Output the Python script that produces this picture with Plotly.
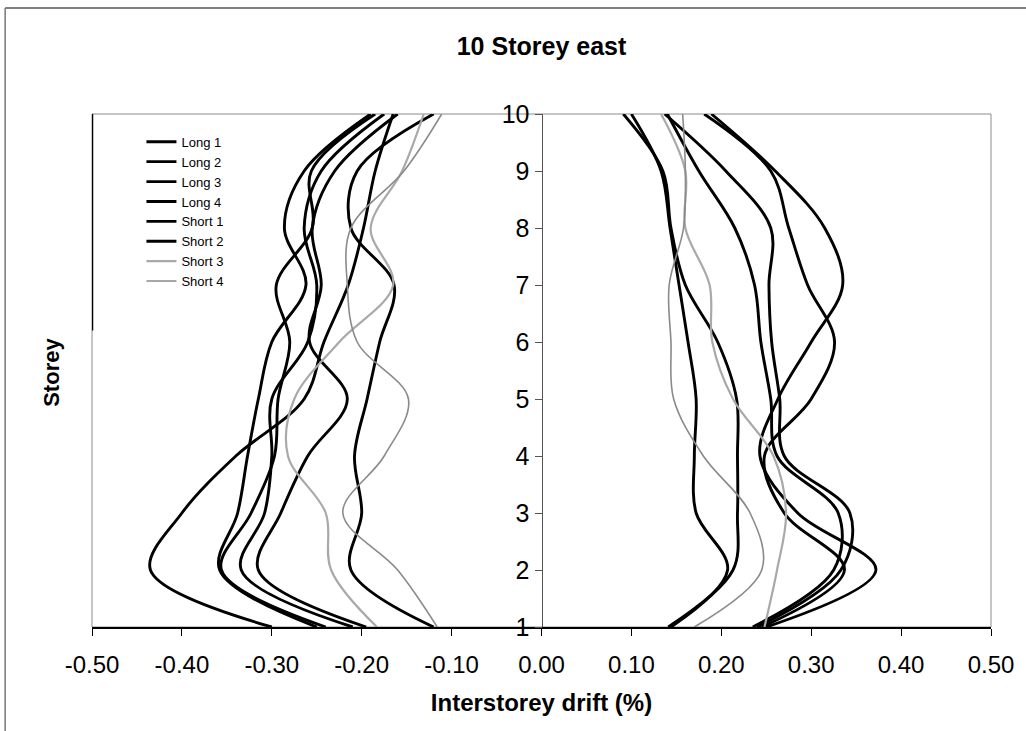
import plotly.graph_objects as go

# Storey levels (vertical axis)
storeys = [1, 2, 3, 4, 5, 6, 7, 8, 9, 10]

# Interstorey drift (%) per storey, negative and positive envelopes
long1_neg = [-0.300, -0.435, -0.400, -0.340, -0.264, -0.242, -0.215, -0.198, -0.185, -0.165]
long1_pos = [0.250, 0.372, 0.285, 0.243, 0.263, 0.300, 0.335, 0.315, 0.260, 0.189]

long2_neg = [-0.250, -0.358, -0.338, -0.327, -0.315, -0.300, -0.262, -0.286, -0.264, -0.190]
long2_pos = [0.245, 0.337, 0.270, 0.248, 0.300, 0.326, 0.296, 0.275, 0.255, 0.181]

long3_neg = [-0.240, -0.356, -0.323, -0.297, -0.293, -0.280, -0.295, -0.255, -0.256, -0.185]
long3_pos = [0.240, 0.333, 0.343, 0.270, 0.265, 0.256, 0.253, 0.255, 0.205, 0.137]

long4_neg = [-0.210, -0.334, -0.308, -0.300, -0.300, -0.260, -0.250, -0.264, -0.245, -0.175]
long4_pos = [0.235, 0.325, 0.330, 0.262, 0.255, 0.244, 0.237, 0.215, 0.175, 0.140]

short1_neg = [-0.195, -0.315, -0.290, -0.260, -0.216, -0.258, -0.245, -0.255, -0.230, -0.160]
short1_pos = [0.141, 0.213, 0.218, 0.218, 0.217, 0.196, 0.160, 0.144, 0.135, 0.091]

short2_neg = [-0.120, -0.212, -0.200, -0.208, -0.194, -0.180, -0.164, -0.212, -0.205, -0.120]
short2_pos = [0.144, 0.207, 0.172, 0.170, 0.172, 0.163, 0.153, 0.143, 0.133, 0.100]

short3_neg = [-0.183, -0.234, -0.240, -0.282, -0.275, -0.225, -0.165, -0.190, -0.155, -0.131]
short3_pos = [0.248, 0.262, 0.272, 0.258, 0.213, 0.190, 0.187, 0.160, 0.160, 0.133]

short4_neg = [-0.116, -0.160, -0.221, -0.175, -0.148, -0.205, -0.216, -0.212, -0.153, -0.111]
short4_pos = [0.170, 0.245, 0.232, 0.180, 0.147, 0.144, 0.142, 0.158, 0.160, 0.157]

x_tick_vals = [-0.5, -0.4, -0.3, -0.2, -0.1, 0.0, 0.1, 0.2, 0.3, 0.4, 0.5]
x_tick_text = ["-0.50", "-0.40", "-0.30", "-0.20", "-0.10", "0.00",
               "0.10", "0.20", "0.30", "0.40", "0.50"]

series = [
    ("Long 1", long1_neg, long1_pos, "#000000", 2.9),
    ("Long 2", long2_neg, long2_pos, "#000000", 2.9),
    ("Long 3", long3_neg, long3_pos, "#000000", 2.9),
    ("Long 4", long4_neg, long4_pos, "#000000", 2.9),
    ("Short 1", short1_neg, short1_pos, "#000000", 2.9),
    ("Short 2", short2_neg, short2_pos, "#000000", 2.9),
    ("Short 3", short3_neg, short3_pos, "#a9a9a9", 2.2),
    ("Short 4", short4_neg, short4_pos, "#8a8a8a", 1.6),
]

FONT = "Liberation Sans, Arial, sans-serif"

fig = go.Figure()
for name, neg, pos, color, width in series:
    # one trace per series: negative branch, gap, positive branch
    xs = list(neg) + [None] + list(pos)
    ys = list(storeys) + [None] + list(storeys)
    fig.add_trace(go.Scatter(
        x=xs, y=ys, name=name, mode="lines",
        line=dict(color=color, width=width, shape="spline", smoothing=1.0),
        connectgaps=False,
    ))

# plot-area frame (grey), with the darker left edge segment
fig.add_shape(type="rect", xref="paper", yref="paper", x0=0, y0=0, x1=1, y1=1,
              line=dict(color="#8c8c8c", width=1), layer="below")
fig.add_shape(type="line", xref="x", yref="y", x0=-0.5, x1=-0.5, y0=6.2, y1=10,
              line=dict(color="#000000", width=2.5))
# outer chart frame
fig.add_shape(type="line", xref="paper", yref="paper",
              x0=-0.0966, x1=1.04, y0=1.2066, y1=1.2066,
              line=dict(color="#555555", width=1.5))
fig.add_shape(type="line", xref="paper", yref="paper",
              x0=-0.0966, x1=-0.0966, y0=1.2066, y1=-0.21,
              line=dict(color="#777777", width=1.5))

fig.add_annotation(text="<b>Storey</b>", xref="paper", yref="paper",
                   x=-0.062, y=0.497, showarrow=False, textangle=-90,
                   font=dict(family=FONT, size=22, color="#000000"))

fig.update_layout(
    width=1026, height=731,
    margin=dict(l=92, r=33, t=114, b=104),
    paper_bgcolor="#ffffff", plot_bgcolor="#ffffff",
    font=dict(family=FONT, color="#000000"),
    title=dict(text="<b>10 Storey east</b>", x=0.5, xref="paper",
               y=0.937, yref="container", yanchor="middle",
               font=dict(family=FONT, size=25, color="#000000")),
    showlegend=True,
    legend=dict(x=0.055, y=0.975, xanchor="left", yanchor="top",
                bgcolor="rgba(0,0,0,0)", borderwidth=0,
                font=dict(family=FONT, size=13, color="#000000"),
                itemwidth=30),
    xaxis=dict(range=[-0.5, 0.5], tickvals=x_tick_vals, ticktext=x_tick_text,
               ticks="outside", ticklen=7, tickwidth=1, tickcolor="#000000",
               showline=True, linecolor="#000000", linewidth=2,
               showgrid=False, zeroline=False,
               tickfont=dict(family=FONT, size=24, color="#000000"),
               ticklabelstandoff=8,
               title=dict(text="<b>Interstorey drift (%)</b>", standoff=17,
                          font=dict(family=FONT, size=24, color="#000000"))),
    yaxis=dict(range=[1, 10], tickvals=storeys, anchor="free", position=0.5,
               ticks="outside", ticklen=7, tickwidth=1, tickcolor="#555555",
               showline=True, linecolor="#555555", linewidth=1,
               showgrid=False, zeroline=False,
               tickfont=dict(family=FONT, size=25, color="#000000")),
)

fig.write_html("out.html")
